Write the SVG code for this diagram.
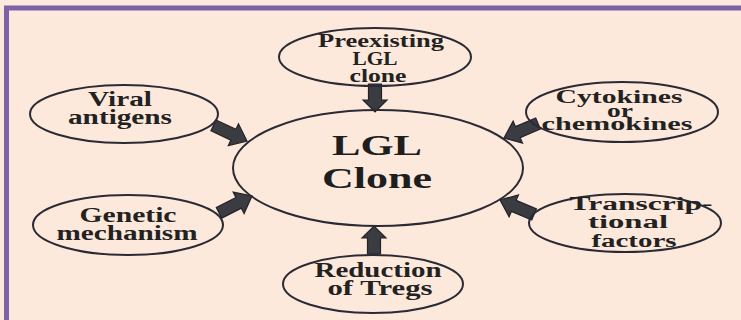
<svg xmlns="http://www.w3.org/2000/svg" width="741" height="320" viewBox="0 0 741 320">
<style>
.node{fill:none;stroke:#2a2a35;stroke-width:2}
.t{font-family:"Liberation Serif","Times New Roman",serif;font-weight:bold;font-size:20px;fill:#222;text-anchor:middle}
.s{font-size:18px}
.c{font-family:"Liberation Serif","Times New Roman",serif;font-weight:bold;font-size:29px;fill:#1e1e1e;text-anchor:middle}
.arr{fill:#3b3b42;stroke:#232328;stroke-width:1.2;stroke-linejoin:miter}
</style>
<defs>
<polygon id="longArrow" class="arr" points="-37,-6 -15,-6 -15,-12 0,0 -15,12 -15,6 -37,6"/>
<polygon id="shortArrow" class="arr" points="-28,-6.5 -12,-6.5 -12,-12 0,0 -12,12 -12,6.5 -28,6.5"/>
</defs>
<rect x="0" y="0" width="741" height="320" fill="#FDE9DB"/>
<rect x="6.5" y="8" width="800" height="400" fill="none" stroke="#7E62A8" stroke-width="5"/>

<g id="connectors">
<use href="#shortArrow" transform="translate(375,112) rotate(90)"/>
<use href="#shortArrow" transform="translate(374,226) rotate(-90)"/>
<use href="#longArrow" transform="translate(247,141) rotate(25)"/>
<use href="#longArrow" transform="translate(252,196) rotate(-27)"/>
<use href="#longArrow" transform="translate(504,138) rotate(157)"/>
<use href="#longArrow" transform="translate(500,200) rotate(203)"/>
</g>

<g id="center">
<ellipse class="node" cx="378" cy="168" rx="145" ry="58"/>
<text class="c" x="377" y="155" textLength="90" lengthAdjust="spacingAndGlyphs">LGL</text>
<text class="c" x="377" y="188" textLength="110" lengthAdjust="spacingAndGlyphs">Clone</text>
</g>

<g id="preexisting">
<ellipse class="node" cx="375" cy="57" rx="96" ry="29"/>
<text class="t s" x="381" y="47" textLength="126" lengthAdjust="spacingAndGlyphs">Preexisting</text>
<text class="t s" x="375" y="65" textLength="45" lengthAdjust="spacingAndGlyphs">LGL</text>
<text class="t s" x="378" y="82" textLength="57" lengthAdjust="spacingAndGlyphs">clone</text>
</g>

<g id="viral">
<ellipse class="node" cx="124" cy="114" rx="94" ry="29"/>
<text class="t" x="120" y="106" textLength="64" lengthAdjust="spacingAndGlyphs">Viral</text>
<text class="t" x="120" y="124" textLength="104" lengthAdjust="spacingAndGlyphs">antigens</text>
</g>

<g id="cytokines">
<ellipse class="node" cx="622" cy="112" rx="96" ry="30"/>
<text class="t s" x="619" y="103" textLength="127" lengthAdjust="spacingAndGlyphs">Cytokines</text>
<text class="t s" x="620" y="117" textLength="26" lengthAdjust="spacingAndGlyphs">or</text>
<text class="t s" x="617" y="130" textLength="151" lengthAdjust="spacingAndGlyphs">chemokines</text>
</g>

<g id="genetic">
<ellipse class="node" cx="128" cy="225" rx="95" ry="30"/>
<text class="t" x="128" y="222" textLength="97" lengthAdjust="spacingAndGlyphs">Genetic</text>
<text class="t" x="127" y="240" textLength="141" lengthAdjust="spacingAndGlyphs">mechanism</text>
</g>

<g id="transcriptional">
<ellipse class="node" cx="625" cy="223" rx="96" ry="29"/>
<text class="t s" x="641" y="210" textLength="143" lengthAdjust="spacingAndGlyphs">Transcrip-</text>
<text class="t s" x="628" y="228" textLength="80" lengthAdjust="spacingAndGlyphs">tional</text>
<text class="t s" x="634" y="247" textLength="85" lengthAdjust="spacingAndGlyphs">factors</text>
</g>

<g id="tregs">
<ellipse class="node" cx="373" cy="284" rx="90" ry="29"/>
<text class="t" x="378" y="277" textLength="127" lengthAdjust="spacingAndGlyphs">Reduction</text>
<text class="t" x="380" y="295" textLength="105" lengthAdjust="spacingAndGlyphs">of Tregs</text>
</g>
</svg>
